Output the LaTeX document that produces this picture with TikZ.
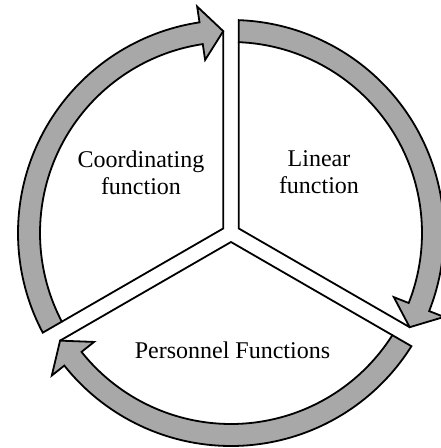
\documentclass[tikz,border=0pt]{standalone}
\usepackage{fontspec}
\setmainfont{Liberation Serif}
\definecolor{ringgray}{RGB}{168,168,168}
\begin{document}
\begin{tikzpicture}[x=1pt,y=1pt,line width=1.8pt,line join=miter,
  ringshape/.style={fill=ringgray,draw=black},
  txt/.style={font=\fontsize{24}{27}\selectfont,align=center,inner sep=0pt}]
\useasboundingbox (-231,-215) rectangle (210,233);
\foreach \r in {0,120,240}{
  \coordinate (J) at (\r+30:9pt);
  \coordinate (T) at (\r-27.8:202pt);
  \coordinate (S) at (\r+87.66:191pt);
  \filldraw[ringshape] (\r+87.9:213pt)
     arc[start angle=\r+87.9, end angle=\r-21.5, radius=213pt]
     -- (\r-21.5:229pt) -- (T) -- (\r-21.5:175pt) -- (\r-21.5:191pt)
     arc[start angle=\r-21.5, end angle=\r+87.66, radius=191pt] -- cycle;
  \draw (S) -- (J) -- (T);
}
\node[txt] (coord) at (-90,60.7) {Coordinating\\function};
\node[txt] (lin) at (88,60.7) {Linear\\function};
\node[txt] (pers) at (1.5,-116.8) {Personnel Functions};
\end{tikzpicture}
\end{document}
